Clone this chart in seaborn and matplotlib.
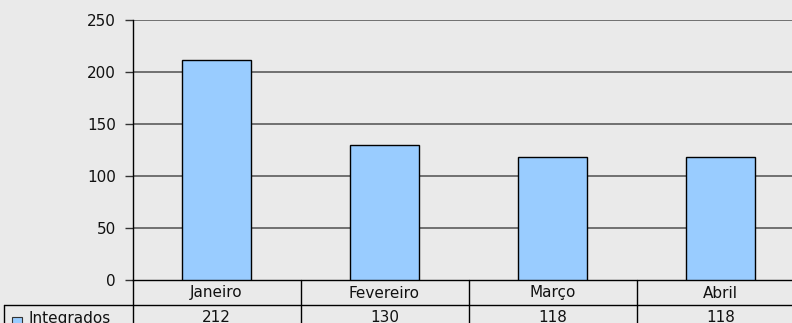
import matplotlib
matplotlib.use("Agg")
import matplotlib.pyplot as plt
from matplotlib.lines import Line2D
from matplotlib.patches import Rectangle
from matplotlib.transforms import blended_transform_factory
import pandas as pd
import seaborn as sns

# Monthly counts
meses = ["Janeiro", "Fevereiro", "Março", "Abril"]
integrados = [212, 130, 118, 118]
serie = "Integrados"
yticks = [0, 50, 100, 150, 200, 250]

BAR = "#99CCFF"
BG = "#EAEAEA"
GRID = "#505050"
FS = 11

sns.set_style("white")
plt.rcParams["font.family"] = ["DejaVu Sans"]
plt.rcParams["font.size"] = FS

W, H = 792, 323
fig = plt.figure(figsize=(W / 100, H / 100), dpi=100, facecolor=BG)

# plot area in pixel terms: left spine x=132.5, y=0 at 280, y=250 at 20
x0, x1, ytop, ybot = 132.5, 804.5, 20.0, 280.0
ax = fig.add_axes([x0 / W, (H - ybot) / H, (x1 - x0) / W, (ybot - ytop) / H])
ax.set_facecolor(BG)

df = pd.DataFrame({"mes": meses, "valor": integrados})
sns.barplot(data=df, x="mes", y="valor", color=BAR, saturation=1,
            width=0.405, edgecolor="black", linewidth=1.0, ax=ax, zorder=3)

ax.set_xlim(-0.5, len(meses) - 0.5)
ax.set_ylim(yticks[0], yticks[-1])
ax.set_yticks(yticks)
ax.set_xticks([])
ax.set_xlabel("")
ax.set_ylabel("")
for t in yticks[1:]:
    ax.axhline(t, color=GRID, lw=1.1, zorder=1)
ax.tick_params(axis="y", direction="out", length=6, width=1, color="#333333",
               pad=6, labelsize=FS, labelcolor="#111111", left=True)
for s in ["top", "right"]:
    ax.spines[s].set_visible(False)
ax.spines["left"].set_color("black")
ax.spines["bottom"].set_color("black")
ax.spines["left"].set_linewidth(1.0)
ax.spines["bottom"].set_linewidth(1.0)

# data table below the plot
def fy(py):
    return 1 - py / H

tr_x = blended_transform_factory(ax.transData, fig.transFigure)
row_line = 305.0
for b in [i - 0.5 for i in range(len(meses) + 1)]:
    fig.add_artist(Line2D([b, b], [fy(ybot), fy(H + 5)], transform=tr_x,
                          color="black", lw=1.0))
fig.add_artist(Line2D([3.5 / W, x1 / W], [fy(row_line), fy(row_line)],
                      transform=fig.transFigure, color="black", lw=1.0))
fig.add_artist(Line2D([3.5 / W, 3.5 / W], [fy(row_line), fy(H + 5)],
                      transform=fig.transFigure, color="black", lw=1.0))

for i, (m, v) in enumerate(zip(meses, integrados)):
    fig.text(i, fy(293), m, transform=tr_x, ha="center", va="center",
             fontsize=FS, color="#111111")
    fig.text(i, fy(318), f"{v}", transform=tr_x, ha="center", va="center",
             fontsize=FS, color="#111111")

fig.add_artist(Rectangle((11.5 / W, fy(327)), 10 / W, 10.5 / H, transform=fig.transFigure,
                         facecolor=BAR, edgecolor="#333333", lw=0.8))
fig.text(28 / W, fy(318), serie, ha="left", va="center", fontsize=FS,
         color="#111111")

fig.savefig("out.png", dpi=100, facecolor=BG)
